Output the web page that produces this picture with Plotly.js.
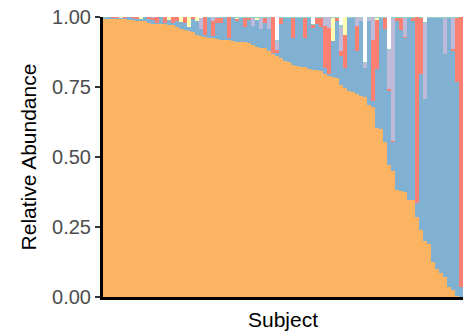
<!DOCTYPE html>
<html>
<head>
<meta charset="utf-8">
<script src="https://cdn.plot.ly/plotly-3.0.1.min.js"></script>
<style>html,body{margin:0;padding:0;background:#fff;}#chart{width:463px;height:332px;}</style>
</head>
<body>
<div id="chart"></div>
<script>
// Subjects 1..90, stacked relative abundances
const subjects = Array.from({length: 90}, (_, i) => 'S' + (i + 1));

const orange = [0.994,0.994,0.994,0.994,0.992,0.992,0.990,0.988,0.986,0.984,
  0.984,0.980,0.976,0.976,0.974,0.974,0.972,0.970,0.966,0.958,
  0.955,0.951,0.945,0.935,0.933,0.929,0.926,0.924,0.920,0.919,
  0.918,0.917,0.914,0.911,0.911,0.910,0.908,0.900,0.894,0.890,
  0.888,0.879,0.868,0.862,0.855,0.843,0.839,0.830,0.825,0.823,
  0.821,0.816,0.810,0.810,0.806,0.796,0.789,0.786,0.782,0.757,
  0.746,0.736,0.731,0.724,0.719,0.714,0.686,0.679,0.604,0.600,
  0.554,0.471,0.450,0.382,0.379,0.375,0.346,0.346,0.286,0.239,
  0.200,0.189,0.125,0.100,0.086,0.071,0.036,0.025,0.004,0.000];

const blue = [0.004,0.006,0.003,0.003,0.004,0.004,0.010,0.007,0.008,0.010,
  0.016,0.014,0.013,0.004,0.026,0.006,0.016,0.010,0.019,0.023,
  0.025,0.013,0.049,0.050,0.023,0.008,0.071,0.007,0.060,0.059,
  0.079,0.008,0.083,0.074,0.086,0.054,0.081,0.067,0.097,0.068,
  0.089,0.078,0.004,0.010,0.121,0.154,0.158,0.096,0.172,0.174,
  0.105,0.181,0.152,0.166,0.158,0.022,0.006,0.130,0.203,0.102,
  0.072,0.261,0.266,0.154,0.268,0.103,0.301,0.021,0.211,0.397,
  0.404,0.264,0.102,0.605,0.573,0.549,0.651,0.641,0.051,0.559,
  0.507,0.808,0.872,0.897,0.911,0.797,0.961,0.852,0.763,0.037];

const red = [0,0,0.003,0.003,0,0.004,0,0.005,0.006,0,
  0,0.006,0.006,0.020,0,0.020,0,0.020,0.015,0,
  0.020,0,0.006,0,0,0.063,0,0.054,0.017,0.019,
  0,0.075,0,0.008,0,0.033,0.008,0,0,0,
  0.020,0,0.128,0.010,0.021,0,0,0.071,0,0,
  0.071,0,0.009,0.021,0.033,0.149,0.166,0,0.012,0.018,
  0.119,0,0,0.089,0,0,0,0.219,0.176,0,
  0.039,0.009,0.005,0.010,0.045,0.004,0,0.010,0.663,0.199,
  0,0,0,0,0,0,0,0.010,0.230,0.963];

const lilac = [0,0,0,0,0,0,0,0,0,0,
  0,0,0.005,0,0,0,0,0,0,0,
  0,0,0,0,0.039,0,0,0.015,0,0,
  0,0,0,0,0,0,0,0.030,0,0.039,
  0,0.040,0,0.032,0,0,0,0,0,0,
  0,0,0,0,0,0.033,0.039,0,0,0.088,
  0,0,0,0.033,0.010,0.018,0.010,0.081,0,0,
  0,0.137,0.440,0,0,0.069,0,0,0,0,
  0.271,0,0,0,0,0.129,0,0.110,0,0];

const yellow = [0,0,0,0,0.004,0,0,0,0,0.006,
  0,0,0,0,0,0,0.012,0,0,0.019,
  0,0.036,0,0.015,0,0,0,0,0,0,
  0,0,0,0.004,0,0,0,0,0.006,0,
  0,0,0,0,0,0,0,0,0,0,
  0,0,0,0,0,0,0,0.081,0,0,
  0.063,0,0,0,0,0,0,0,0.006,0,
  0,0,0,0,0,0,0,0,0,0,
  0,0,0,0,0,0,0,0,0,0];

const teal = [0.002,0,0,0,0,0,0,0,0,0,
  0,0,0,0,0,0,0,0,0,0,
  0,0,0,0,0,0,0.003,0,0.003,0.003,
  0.003,0,0.003,0.003,0.003,0.003,0.003,0.003,0.003,0.003,
  0.003,0.003,0,0.004,0.003,0.003,0.003,0.003,0.003,0.003,
  0.003,0.003,0.005,0.003,0.003,0,0,0.003,0.003,0.005,
  0,0.003,0.003,0,0.003,0.004,0.003,0,0.003,0.003,
  0.003,0.004,0.003,0.003,0.003,0.003,0.003,0.003,0,0.003,
  0.004,0.003,0.003,0.003,0.003,0.003,0.003,0.003,0.003,0];

const series = [
  {name: 'Orange', y: orange, color: '#FDB462'},
  {name: 'Blue', y: blue, color: '#80B1D3'},
  {name: 'Red', y: red, color: '#FB8072'},
  {name: 'Lilac', y: lilac, color: '#BEBADA'},
  {name: 'Yellow', y: yellow, color: '#FFFFB3'},
  {name: 'Teal', y: teal, color: '#8DD3C7'}
];

const traces = series.map(s => ({
  type: 'bar',
  x: subjects,
  y: s.y,
  name: s.name,
  marker: {color: s.color, line: {width: 0}},
  hoverinfo: 'x+y+name'
}));

const font = '"Liberation Sans", Arial, Helvetica, sans-serif';

const layout = {
  width: 463,
  height: 332,
  margin: {l: 103, r: 0, t: 17, b: 35, pad: 0},
  barmode: 'stack',
  bargap: 0,
  showlegend: false,
  paper_bgcolor: '#ffffff',
  plot_bgcolor: '#ffffff',
  font: {family: font, color: '#000'},
  xaxis: {
    type: 'category',
    showticklabels: false,
    ticks: '',
    showgrid: false,
    zeroline: false,
    showline: true,
    linecolor: '#000',
    linewidth: 3,
    title: {text: 'Subject', font: {family: font, size: 21, color: '#000'}, standoff: 14}
  },
  yaxis: {
    range: [0, 1],
    tickvals: [0, 0.25, 0.5, 0.75, 1],
    ticktext: ['0.00', '0.25', '0.50', '0.75', '1.00'],
    ticks: 'outside',
    ticklen: 5,
    tickwidth: 2,
    tickcolor: '#333333',
    tickfont: {family: font, size: 20, color: '#4D4D4D'},
    showgrid: false,
    zeroline: false,
    showline: true,
    linecolor: '#000',
    linewidth: 3,
    title: {text: 'Relative Abundance', font: {family: font, size: 21, color: '#000'}, standoff: 10}
  }
};

Plotly.newPlot('chart', traces, layout, {staticPlot: true, displayModeBar: false});
</script>
</body>
</html>
